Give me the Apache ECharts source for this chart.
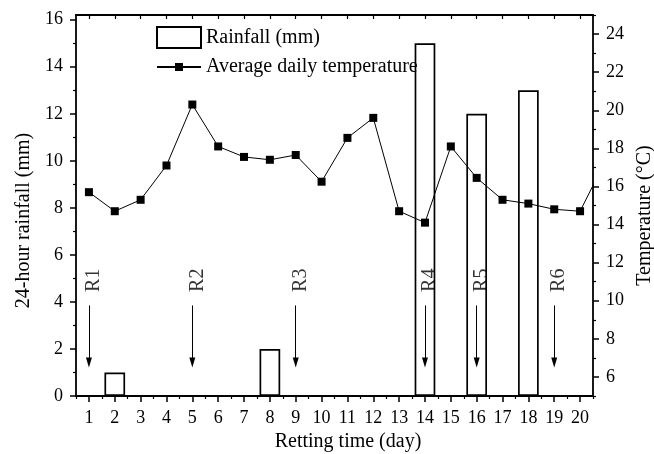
<!DOCTYPE html>
<html><head><meta charset="utf-8">
<script src="https://cdn.jsdelivr.net/npm/echarts@6/dist/echarts.min.js"></script>
<style>html,body{margin:0;padding:0;background:#fff}#c{width:654px;height:454px}</style>
</head><body><div id="c"></div>
<script>
const days = ['1','2','3','4','5','6','7','8','9','10','11','12','13','14','15','16','17','18','19','20'];
const rainfall = [0,1,0,0,0,0,0,2,0,0,0,0,0,15,0,12,0,13,0,0];
// temperature for days 1..21 (day 21 lies beyond the axis and is clipped)
const temperature = [15.7,14.7,15.3,17.1,20.3,18.1,17.55,17.4,17.65,16.25,18.55,19.6,14.7,14.1,18.1,16.45,15.3,15.1,14.8,14.7,17.4];
const rainTicks = [0,2,4,6,8,10,12,14,16];
const rainMinorTicks = [1,3,5,7,9,11,13,15];
const tempTicks = [6,8,10,12,14,16,18,20,22,24];
const tempMinorTicks = [5,7,9,11,13,15,17,19,21,23,25];
const rettingDays = [1,5,9,14,16,19];
const rettingLabels = ['R1','R2','R3','R4','R5','R6'];

const FONT = 'Liberation Serif';
const BLACK = '#000';
const chart = echarts.init(document.getElementById('c'), null, {renderer:'canvas'});

const baseCat = {type:'category', data: days, boundaryGap: true, axisLabel:{show:false}, axisLine:{show:false}, axisTick:{show:false}, splitLine:{show:false}};

const option = {
  animation: false,
  backgroundColor: '#fff',
  grid: {left: 76, right: 61, top: 15, bottom: 58, containLabel: false, outerBoundsMode: 'none'},
  legend: [
    {data:[{name:'Rainfall (mm)', icon:'rect'}], left:156, top:26, padding:0, itemWidth:44, itemHeight:21, itemGap:6,
     textStyle:{fontFamily:FONT, fontSize:20, color:BLACK}},
    {data:['Average daily temperature'], left:156, top:57, padding:0, itemWidth:44, itemHeight:10, itemGap:6,
     textStyle:{fontFamily:FONT, fontSize:20, color:BLACK}}
  ],
  xAxis: [
    Object.assign({}, baseCat, {position:'bottom',
      axisLine:{show:true, onZero:false, lineStyle:{color:BLACK, width:1.8}},
      axisTick:{show:true, alignWithLabel:true, length:6, lineStyle:{color:BLACK, width:1.5}},
      axisLabel:{show:true, margin:13, fontFamily:FONT, fontSize:18, color:BLACK},
      name:'Retting time (day)', nameLocation:'middle', nameGap:33,
      nameTextStyle:{fontFamily:FONT, fontSize:20, color:BLACK, padding:[0,0,0,27]}}),
    Object.assign({}, baseCat, {position:'bottom',
      axisTick:{show:true, length:3, lineStyle:{color:BLACK, width:1.2}}}),
    Object.assign({}, baseCat, {position:'top',
      axisLine:{show:true, onZero:false, lineStyle:{color:BLACK, width:1.8}},
      axisTick:{show:true, inside:true, alignWithLabel:true, length:4, lineStyle:{color:BLACK, width:1.2}}}),
    Object.assign({}, baseCat, {position:'top',
      axisTick:{show:true, inside:true, length:3, lineStyle:{color:BLACK, width:1}}}),
    {type:'value', min:0.5, max:20.5, show:false, position:'bottom', splitLine:{show:false}}
  ],
  yAxis: [
    {type:'value', position:'left', min:0, max:16.2,
     axisLine:{show:true, onZero:false, lineStyle:{color:BLACK, width:1.8}},
     axisTick:{show:true, length:6, customValues: rainTicks, lineStyle:{color:BLACK, width:1.5}},
     axisLabel:{show:true, margin:13, customValues: rainTicks, fontFamily:FONT, fontSize:18, color:BLACK},
     splitLine:{show:false},
     name:'24-hour rainfall (mm)', nameLocation:'middle', nameGap:42,
     nameTextStyle:{fontFamily:FONT, fontSize:20, color:BLACK, padding:[0,30,0,0]}},
    {type:'value', position:'left', min:0, max:16.2,
     axisLine:{show:false}, axisLabel:{show:false}, splitLine:{show:false},
     axisTick:{show:true, length:3, customValues: rainMinorTicks, lineStyle:{color:BLACK, width:1.2}}},
    {type:'value', position:'right', min:5, max:25,
     axisLine:{show:true, onZero:false, lineStyle:{color:BLACK, width:1.8}},
     axisTick:{show:true, length:6, customValues: tempTicks, lineStyle:{color:BLACK, width:1.5}},
     axisLabel:{show:true, margin:13, customValues: tempTicks, fontFamily:FONT, fontSize:18, color:BLACK},
     splitLine:{show:false},
     name:'Temperature (°C)', nameLocation:'middle', nameGap:42,
     nameTextStyle:{fontFamily:FONT, fontSize:20, color:BLACK, padding:[0,20,0,0]}},
    {type:'value', position:'right', min:5, max:25,
     axisLine:{show:false}, axisLabel:{show:false}, splitLine:{show:false},
     axisTick:{show:true, length:3, customValues: tempMinorTicks, lineStyle:{color:BLACK, width:1.2}}}
  ],
  series: [
    {name:'Rainfall (mm)', type:'bar', xAxisIndex:0, yAxisIndex:0, data: rainfall, barWidth:'80%',
     itemStyle:{color:'#fff', borderColor:BLACK, borderWidth:1.7}, z:2},
    {name:'Average daily temperature', type:'line', xAxisIndex:4, yAxisIndex:2, clip:true,
     data: temperature.map((t,i)=>[i+1,t]),
     symbol:'rect', symbolSize:8, showAllSymbol:true,
     lineStyle:{color:BLACK, width:1}, itemStyle:{color:BLACK}, z:4},
    {name:'retting', type:'scatter', xAxisIndex:4, yAxisIndex:0,
     data: rettingDays.map((d,i)=>({value:[d, 4.92], name: rettingLabels[i]})),
     symbolSize:1, itemStyle:{color:'rgba(0,0,0,0)'}, silent:true,
     label:{show:true, formatter:'{b}', position:'inside', rotate:90, offset:[0,5],
            fontFamily:FONT, fontSize:20, color:BLACK},
     markLine:{silent:true, symbol:['none','triangle'], symbolSize:10,
       label:{show:false}, lineStyle:{color:BLACK, width:1, type:'solid', opacity:1},
       emphasis:{disabled:true},
       data: rettingDays.map(d=>[{coord:[d, 3.85]}, {coord:[d, 1.42], symbol:'triangle', symbolSize:[6,10]}])},
     z:5}
  ]
};
chart.setOption(option);
</script></body></html>
